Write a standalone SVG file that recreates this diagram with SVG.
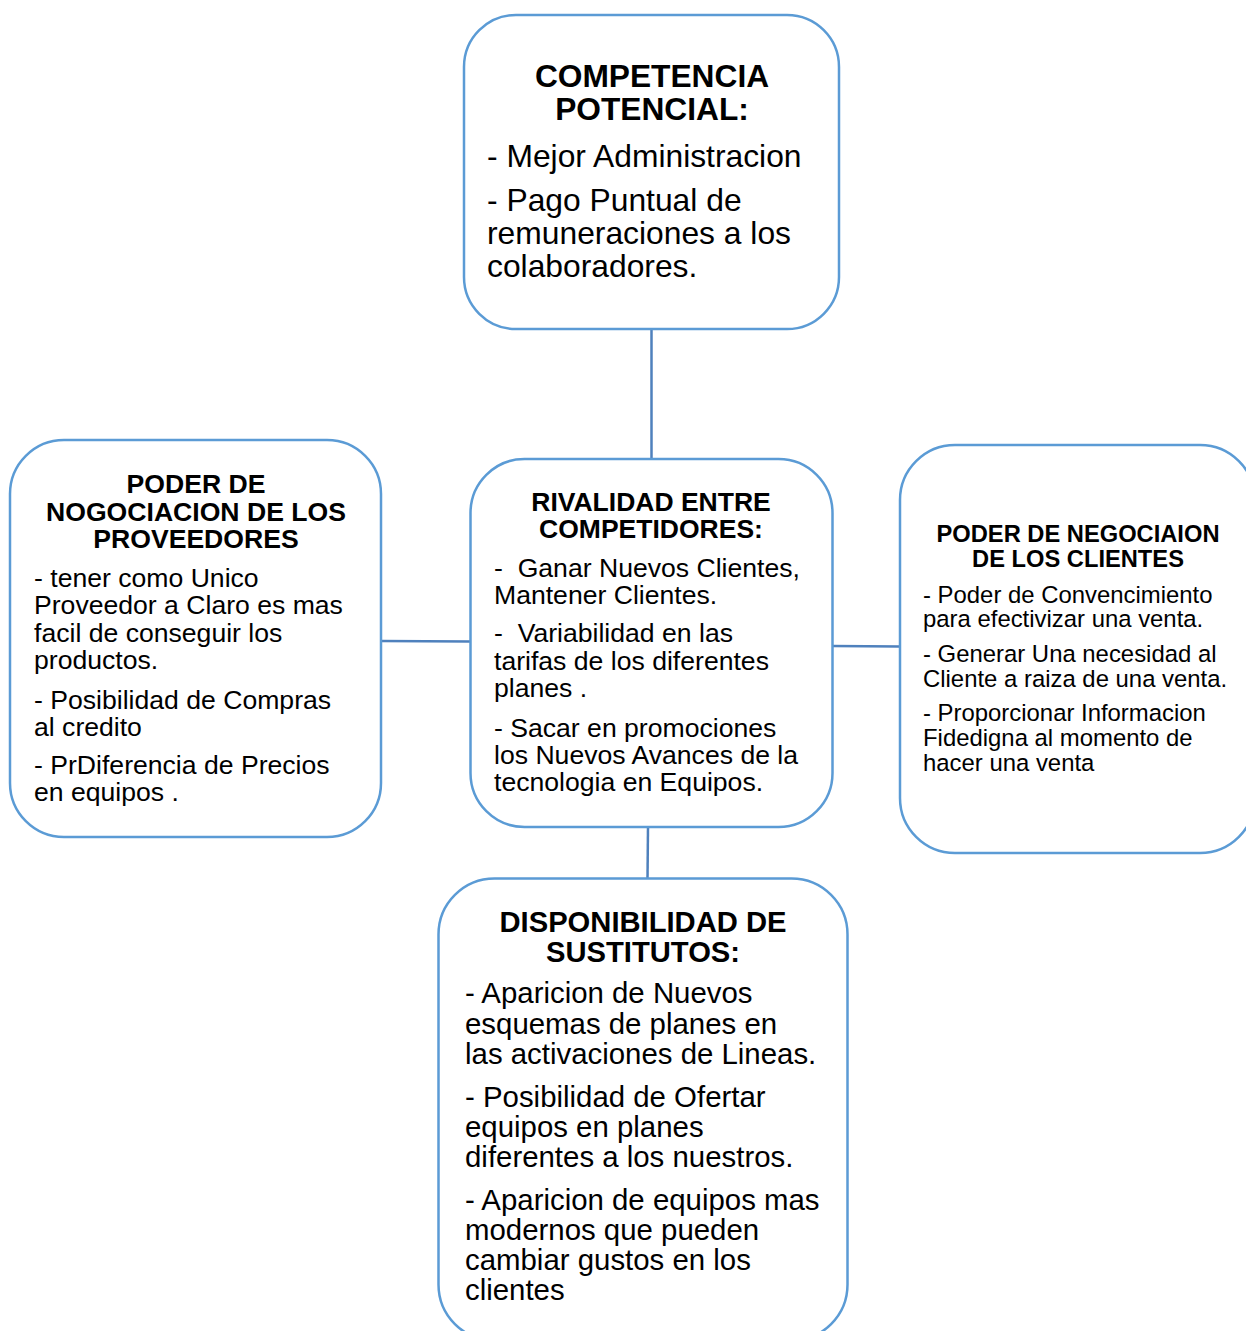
<svg xmlns="http://www.w3.org/2000/svg" width="1246" height="1331" viewBox="0 0 1246 1331">
<style>
.box{fill:#ffffff;stroke:#5b9bd5;stroke-width:2.5}
.con{stroke:#4f81bd;stroke-width:2.5;fill:none}
text{font-family:"Liberation Sans",Arial,sans-serif;fill:#000}
.t{font-weight:bold;text-anchor:middle}
</style>
<rect width="1246" height="1331" fill="#ffffff"/>
<g id="connectors">
<line class="con" x1="651.5" y1="329" x2="651.5" y2="459"/>
<line class="con" x1="381" y1="641" x2="470" y2="641.5"/>
<line class="con" x1="832.5" y1="646" x2="900" y2="646.5"/>
<line class="con" x1="648" y1="827" x2="647.5" y2="879"/>
</g>
<g id="competencia-potencial">
<rect class="box" x="464" y="15" width="375" height="314" rx="52"/>
<text class="t" font-size="31.7"><tspan x="652" y="86.5">COMPETENCIA</tspan><tspan x="652" y="119.5">POTENCIAL:</tspan></text>
<text font-size="31.8"><tspan x="487" y="167">- Mejor Administracion</tspan><tspan x="487" y="210.5">- Pago Puntual de</tspan><tspan x="487" y="243.5">remuneraciones a los</tspan><tspan x="487" y="277">colaboradores.</tspan></text>
</g>
<g id="poder-proveedores">
<rect class="box" x="10" y="440" width="371" height="397" rx="54"/>
<text class="t" font-size="26.6"><tspan x="196" y="493">PODER DE</tspan><tspan x="196" y="521">NOGOCIACION DE LOS</tspan><tspan x="196" y="548">PROVEEDORES</tspan></text>
<text font-size="26.6"><tspan x="34" y="587">- tener como Unico</tspan><tspan x="34" y="614">Proveedor a Claro es mas</tspan><tspan x="34" y="641.5">facil de conseguir los</tspan><tspan x="34" y="668.5">productos.</tspan><tspan x="34" y="708.5">- Posibilidad de Compras</tspan><tspan x="34" y="735.5">al credito</tspan><tspan x="34" y="773.5">- PrDiferencia de Precios</tspan><tspan x="34" y="801">en equipos .</tspan></text>
</g>
<g id="rivalidad">
<rect class="box" x="470.5" y="459" width="362" height="368" rx="54"/>
<text class="t" font-size="26.5"><tspan x="651" y="510.7">RIVALIDAD ENTRE</tspan><tspan x="651" y="538.3">COMPETIDORES:</tspan></text>
<text font-size="26.6" xml:space="preserve"><tspan x="494" y="576.7">-  Ganar Nuevos Clientes,</tspan><tspan x="494" y="604">Mantener Clientes.</tspan><tspan x="494" y="642.3">-  Variabilidad en las</tspan><tspan x="494" y="670">tarifas de los diferentes</tspan><tspan x="494" y="697.3">planes .</tspan><tspan x="494" y="736.7">- Sacar en promociones</tspan><tspan x="494" y="763.5">los Nuevos Avances de la</tspan><tspan x="494" y="791">tecnologia en Equipos.</tspan></text>
</g>
<g id="poder-clientes">
<rect class="box" x="900" y="445" width="355" height="408" rx="55"/>
<text class="t" font-size="23.7"><tspan x="1078" y="541.7">PODER DE NEGOCIAION</tspan><tspan x="1078" y="566.7">DE LOS CLIENTES</tspan></text>
<text font-size="23.9"><tspan x="923" y="603.3">- Poder de Convencimiento</tspan><tspan x="923" y="627">para efectivizar una venta.</tspan><tspan x="923" y="661.7">- Generar Una necesidad al</tspan><tspan x="923" y="686.5">Cliente a raiza de una venta.</tspan><tspan x="923" y="721">- Proporcionar Informacion</tspan><tspan x="923" y="746">Fidedigna al momento de</tspan><tspan x="923" y="771">hacer una venta</tspan></text>
</g>
<g id="disponibilidad-sustitutos">
<rect class="box" x="438.5" y="878.5" width="409" height="462" rx="56"/>
<text class="t" font-size="29.2"><tspan x="643" y="931.7">DISPONIBILIDAD DE</tspan><tspan x="643" y="961.7">SUSTITUTOS:</tspan></text>
<text font-size="29.4"><tspan x="465" y="1003.3">- Aparicion de Nuevos</tspan><tspan x="465" y="1033.5">esquemas de planes en</tspan><tspan x="465" y="1064.3">las activaciones de Lineas.</tspan><tspan x="465" y="1107.3">- Posibilidad de Ofertar</tspan><tspan x="465" y="1137">equipos en planes</tspan><tspan x="465" y="1167">diferentes a los nuestros.</tspan><tspan x="465" y="1210">- Aparicion de equipos mas</tspan><tspan x="465" y="1240">modernos que pueden</tspan><tspan x="465" y="1270">cambiar gustos en los</tspan><tspan x="465" y="1300">clientes</tspan></text>
</g>
</svg>
